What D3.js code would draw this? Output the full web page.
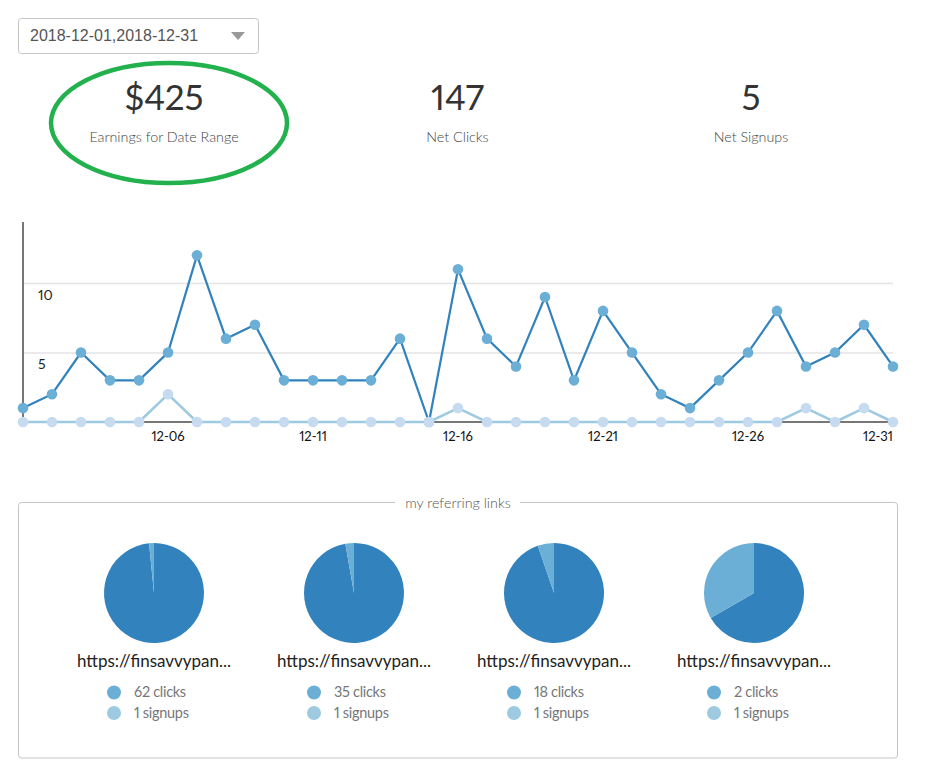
<!DOCTYPE html>
<html>
<head>
<meta charset="utf-8">
<script src="https://cdn.jsdelivr.net/npm/d3@7"></script>
<style>
html, body { margin: 0; padding: 0; background: #fff; }
svg { display: block; font-family: Lato, sans-serif; font-variant-numeric: proportional-nums; }
</style>
</head>
<body>
<svg id="chart" width="929" height="775"></svg>
<script>
// data
var days = ["12-01","12-02","12-03","12-04","12-05","12-06","12-07","12-08","12-09","12-10","12-11","12-12","12-13","12-14","12-15","12-16","12-17","12-18","12-19","12-20","12-21","12-22","12-23","12-24","12-25","12-26","12-27","12-28","12-29","12-30","12-31"]
var clicks = [1,2,5,3,3,5,12,6,7,3,3,3,3,6,0,11,6,4,9,3,8,5,2,1,3,5,8,4,5,7,4]
var signups = [0,0,0,0,0,2,0,0,0,0,0,0,0,0,0,1,0,0,0,0,0,0,0,0,0,0,0,1,0,1,0]
var xTickLabels = ["12-06","12-11","12-16","12-21","12-26","12-31"]
var yTicks = [5,10]
var statValues = ["$425","147","5"]
var statLabels = ["Earnings for Date Range","Net Clicks","Net Signups"]
var linkNames = ["https://finsavvypan...","https://finsavvypan...","https://finsavvypan...","https://finsavvypan..."]
var linkClicks = [62,35,18,2]
var linkSignups = [1,1,1,1]

var svg = d3.select("#chart")

// date dropdown
svg.append("rect").attr("x",18.5).attr("y",18.5).attr("width",240).attr("height",35).attr("rx",3)
  .attr("fill","#fff").attr("stroke","#c4c4c4")
svg.append("text").attr("x",30).attr("y",41).attr("font-family","'Liberation Sans', Arial, sans-serif")
  .attr("font-size",16).attr("fill","#555").text("2018-12-01,2018-12-31")
svg.append("path").attr("d","M231 32h14l-7 8z").attr("fill","#999")

// stats on top
var statX = d3.scalePoint().domain(d3.range(3)).range([164,751])
statValues.forEach(function(v,i){
  svg.append("text").attr("x",statX(i)).attr("y",110).attr("text-anchor","middle")
    .attr("font-size",35).attr("fill","#333").text(v)
  svg.append("text").attr("x",statX(i)).attr("y",142).attr("text-anchor","middle")
    .attr("font-size",14.3).attr("font-weight",300).attr("fill","#444").text(statLabels[i])
})

// green hand drawn circle
svg.append("ellipse").attr("cx",169).attr("cy",123).attr("rx",118).attr("ry",60)
  .attr("fill","none").attr("stroke","#22b14c").attr("stroke-width",4.5)

// line chart
var x = d3.scalePoint().domain(days).range([23,893])
var y = d3.scaleLinear().domain([0,14.4]).range([422,222])

var grid = svg.append("g").attr("transform","translate(23,0)")
  .call(d3.axisLeft(y).tickValues(yTicks).tickSize(-870).tickFormat(d3.format("d")))
grid.select(".domain").remove()
grid.selectAll("line").attr("stroke","#e4e4e4").attr("stroke-width",1.5)
grid.selectAll("text").attr("x",15).attr("dy","1.15em").attr("text-anchor","start")
  .attr("font-family","Lato, sans-serif").attr("font-size",14).attr("fill","#222")

svg.append("line").attr("x1",23).attr("x2",23).attr("y1",y.range()[1]).attr("y2",y(0))
  .attr("stroke","#777").attr("stroke-width",2)

var xAxis = svg.append("g").attr("transform","translate(0,"+y(0)+")")
  .call(d3.axisBottom(x).tickValues(xTickLabels).tickSize(0).tickPadding(10).offset(0))
xAxis.select(".domain").attr("stroke","#777").attr("stroke-width",2)
xAxis.selectAll("text").attr("font-family","Lato, sans-serif").attr("font-size",13).attr("fill","#111")
  .attr("text-anchor",function(d){ return d=="12-31" ? "end" : "middle" })

function drawSeries(values, lineColor, dotColor, r, w){
  var line = d3.line().x(function(d,i){ return x(days[i]) }).y(function(d){ return y(d) })
  svg.append("path").datum(values).attr("d",line).attr("fill","none")
    .attr("stroke",lineColor).attr("stroke-width",w)
  svg.append("g").selectAll("circle").data(values).enter().append("circle")
    .attr("cx",function(d,i){ return x(days[i]) })
    .attr("cy",function(d){ return y(d) })
    .attr("r",r).attr("fill",dotColor)
}
drawSeries(clicks,"#3182bd","#6baed6",5.3,2.2)
drawSeries(signups,"#9ecae1","#c6dbef",5.3,2.6)

// referring links box
svg.append("rect").attr("x",18.5).attr("y",502.5).attr("width",879).attr("height",255.5).attr("rx",3)
  .attr("fill","none").attr("stroke","#c4c4c4")
svg.append("rect").attr("x",395).attr("y",498).attr("width",125).attr("height",10).attr("fill","#fff")
svg.append("text").attr("x",458).attr("y",508).attr("text-anchor","middle")
  .attr("font-size",14.3).attr("font-weight",300).attr("fill","#555").text("my referring links")

var pieX = d3.scaleLinear().domain([0,3]).range([154,754])
var pie = d3.pie().sort(null)
var arc = d3.arc().innerRadius(0).outerRadius(50)
var pieColors = ["#3182bd","#6baed6"]
var legendColors = ["#6baed6","#9ecae1"]

linkNames.forEach(function(name,i){
  var g = svg.append("g").attr("transform","translate("+pieX(i)+",0)")
  g.append("g").attr("transform","translate(0,593)").selectAll("path")
    .data(pie([linkClicks[i],linkSignups[i]])).enter().append("path")
    .attr("d",arc).attr("fill",function(d,j){ return pieColors[j] })
  g.append("text").attr("x",0).attr("y",667).attr("text-anchor","middle")
    .attr("font-size",17).attr("fill","#222").text(name)
  var rows = [linkClicks[i]+" clicks", linkSignups[i]+" signups"]
  rows.forEach(function(t,j){
    var ry = 692+j*20.5
    g.append("circle").attr("cx",-40).attr("cy",ry+0.5).attr("r",7).attr("fill",legendColors[j])
    g.append("text").attr("x",-20).attr("y",ry+5).attr("font-size",14.5).attr("letter-spacing",-0.3)
      .attr("fill","#777").text(t)
  })
})
</script>
</body>
</html>
